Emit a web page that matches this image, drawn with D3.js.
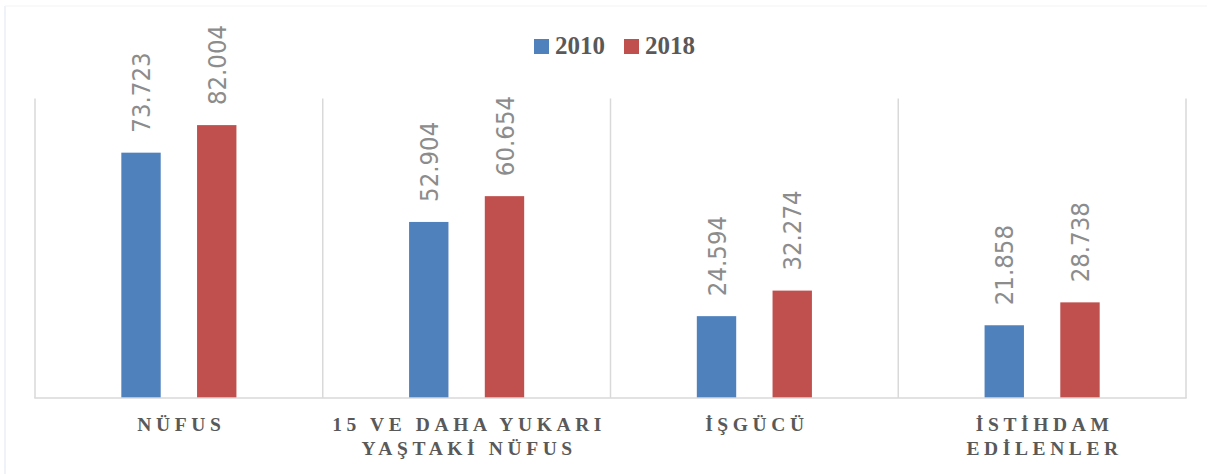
<!DOCTYPE html>
<html>
<head>
<meta charset="utf-8">
<script src="https://cdn.jsdelivr.net/npm/d3@7"></script>
<style>
  body { margin: 0; background: #fff; }
  svg { display: block; }
</style>
</head>
<body>
<div id="content"></div>
<script>
var categories = [["NÜFUS"], ["15 VE DAHA YUKARI", "YAŞTAKİ NÜFUS"], ["İŞGÜCÜ"], ["İSTİHDAM", "EDİLENLER"]];
var seriesNames = ["2010", "2018"];
var values2010 = [73.723, 52.904, 24.594, 21.858];
var values2018 = [82.004, 60.654, 32.274, 28.738];
var colors = ["#4f81bd", "#c0504d"];

var width = 1211, height = 474;
var plot = {l: 35, r: 1186, t: 98.5, b: 398};

var data = categories.map(function(c, i) {
  return {cat: i, label: c, vals: [values2010[i], values2018[i]]};
});

var svg = d3.select("#content")
            .append("svg")
            .attr("width", width)
            .attr("height", height);

// faint outer chart border
svg.append("line").attr("x1", 5).attr("x2", 5).attr("y1", 6).attr("y2", height)
   .attr("stroke", "#dfe7f2").attr("stroke-width", 1);
svg.append("line").attr("x1", 5).attr("x2", width - 4).attr("y1", 6).attr("y2", 6)
   .attr("stroke", "#f3f3f3").attr("stroke-width", 1);

var x0 = d3.scaleBand().domain(d3.range(categories.length)).range([plot.l, plot.r]);
var bw = x0.bandwidth();
var x1 = d3.scaleBand().domain(seriesNames).range([bw * 0.3, bw * 0.7]).paddingInner(0.48);
var y = d3.scaleLinear().domain([0, 90]).range([plot.b, plot.t]);

// vertical category dividers
svg.append("g")
   .selectAll("line")
   .data(d3.range(categories.length + 1))
   .enter()
   .append("line")
   .attr("x1", function(d) { return plot.l + d * bw; })
   .attr("x2", function(d) { return plot.l + d * bw; })
   .attr("y1", plot.t)
   .attr("y2", plot.b)
   .attr("stroke", "#d9d9d9")
   .attr("stroke-width", 1.5);

var groups = svg.append("g")
                .selectAll("g")
                .data(data)
                .enter()
                .append("g")
                .attr("transform", function(d) { return "translate(" + x0(d.cat) + ",0)"; });

groups.selectAll("rect")
      .data(function(d) { return d.vals.map(function(v, i) { return {s: seriesNames[i], v: v, i: i}; }); })
      .enter()
      .append("rect")
      .attr("x", function(d) { return x1(d.s); })
      .attr("y", function(d) { return y(d.v); })
      .attr("width", x1.bandwidth())
      .attr("height", function(d) { return plot.b - y(d.v); })
      .attr("fill", function(d) { return colors[d.i]; });

groups.selectAll("text.val")
      .data(function(d) { return d.vals.map(function(v, i) { return {s: seriesNames[i], v: v, i: i}; }); })
      .enter()
      .append("text")
      .attr("class", "val")
      .attr("transform", function(d) {
        return "translate(" + (x1(d.s) + x1.bandwidth() / 2) + "," + (y(d.v) - 20) + ") rotate(-90)";
      })
      .attr("dy", "0.36em")
      .attr("text-anchor", "start")
      .attr("font-family", "'Liberation Sans Narrow', 'DejaVu Sans Condensed', sans-serif")
      .attr("font-size", 25.5)
      .attr("fill", "#8c8c8c")
      .text(function(d) { return d3.format(".3f")(d.v); });

// baseline
svg.append("line")
   .attr("x1", plot.l - 0.75).attr("x2", plot.r + 0.75)
   .attr("y1", plot.b).attr("y2", plot.b)
   .attr("stroke", "#d9d9d9").attr("stroke-width", 1.5);

// category labels
var catLabels = svg.append("g")
                   .selectAll("text")
                   .data(data)
                   .enter()
                   .append("text")
                   .attr("x", function(d) { return x0(d.cat) + bw / 2 + 2.5; })
                   .attr("y", 431)
                   .attr("text-anchor", "middle")
                   .attr("font-family", "'Liberation Serif', serif")
                   .attr("font-weight", "bold")
                   .attr("font-size", 19.5)
                   .attr("letter-spacing", "4.6px")
                   .attr("fill", "#595959");
catLabels.selectAll("tspan")
         .data(function(d) { return d.label; })
         .enter()
         .append("tspan")
         .attr("x", function() { return d3.select(this.parentNode).attr("x"); })
         .attr("dy", function(d, i) { return i === 0 ? 0 : 24; })
         .text(function(d) { return d; });

// legend
var legend = svg.append("g")
                .selectAll("g")
                .data(seriesNames)
                .enter()
                .append("g")
                .attr("transform", function(d, i) { return "translate(" + (534 + i * 90) + ",0)"; });
legend.append("rect")
      .attr("x", 0).attr("y", 39).attr("width", 15).attr("height", 15)
      .attr("fill", function(d, i) { return colors[i]; });
legend.append("text")
      .attr("x", 21).attr("y", 53.5)
      .attr("font-family", "'Liberation Serif', serif")
      .attr("font-weight", "bold")
      .attr("font-size", 25)
      .attr("fill", "#595959")
      .text(function(d) { return d; });
</script>
</body>
</html>
